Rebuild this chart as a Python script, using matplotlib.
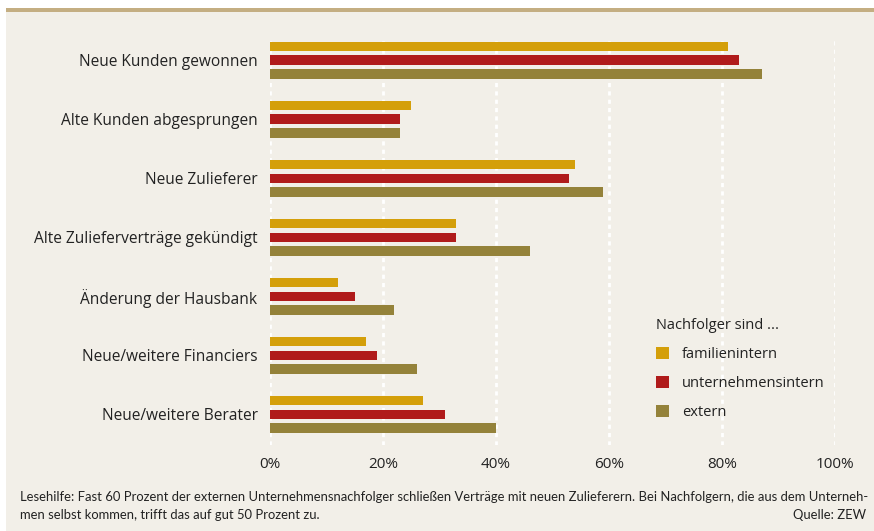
import numpy as np
import matplotlib
matplotlib.use("Agg")
from matplotlib import pyplot as plt
from matplotlib.patches import Rectangle

# data
categories = ["Neue Kunden gewonnen", "Alte Kunden abgesprungen", "Neue Zulieferer",
              "Alte Zulieferverträge gekündigt", "Änderung der Hausbank",
              "Neue/weitere Financiers", "Neue/weitere Berater"]
familienintern = [81, 25, 54, 33, 12, 17, 27]
unternehmensintern = [83, 23, 53, 33, 15, 19, 31]
extern = [87, 23, 59, 46, 22, 26, 40]
series_names = ["familienintern", "unternehmensintern", "extern"]
xticks = [0, 20, 40, 60, 80, 100]
xticklabels = ["0%", "20%", "40%", "60%", "80%", "100%"]

colors = ["#D49F0A", "#B01B1B", "#94823A"]
bg = "#F2EFE8"
txt = "#222222"

plt.rcParams['font.family'] = ['Open Sans', 'DejaVu Sans']

W, H = 874, 531
fig = plt.figure(figsize=(W / 100, H / 100), dpi=100)
fig.patch.set_facecolor("white")

# background panel and top band
fig.patches.append(Rectangle((6 / W, 0), 1, 1 - 12 / H, transform=fig.transFigure,
                             facecolor=bg, edgecolor="none", zorder=-10))
fig.patches.append(Rectangle((6 / W, 1 - 12 / H), 1, 4 / H, transform=fig.transFigure,
                             facecolor="#C4AE82", edgecolor="none", zorder=-10))

left, right, top, bottom = 270, 835, 37, 445
ax = fig.add_axes([left / W, 1 - bottom / H, (right - left) / W, (bottom - top) / H])
ax.set_facecolor("none")

y = np.arange(len(categories))
off = 0.237
h = 0.153
for i, (vals, c, name) in enumerate(zip([familienintern, unternehmensintern, extern], colors, series_names)):
    ax.barh(y + (i - 1) * off, vals, height=h, color=c, label=name, zorder=3)

ax.set_xlim(0, 100)
ax.set_ylim(len(categories) - 1 + 0.525, -0.39)
ax.set_yticks(y)
ax.set_yticklabels(categories, fontsize=11.2, color=txt)
ax.set_xticks(xticks)
ax.set_xticklabels(xticklabels, fontsize=11, color=txt)
ax.tick_params(length=0, pad=9)
ax.tick_params(axis="x", pad=9)
for s in ax.spines.values():
    s.set_visible(False)
ax.grid(axis="x", color="white", linestyle=(0, (1.5, 1.5)), linewidth=2, zorder=0)

leg = ax.legend(loc="upper left", bbox_to_anchor=(643 / W, 1 - 305 / H),
                bbox_transform=fig.transFigure, frameon=False,
                title="Nachfolger sind ...", fontsize=10.5, title_fontsize=10.5,
                handlelength=0.9, handleheight=0.9, handletextpad=0.85,
                labelspacing=0.95, alignment="left")
for t in leg.get_texts():
    t.set_color(txt)
leg.get_title().set_color(txt)

foot = ['Lato', 'DejaVu Sans']
fig.text(20 / W, 1 - 497 / H,
         "Lesehilfe: Fast 60 Prozent der externen Unternehmensnachfolger schließen Verträge mit neuen Zulieferern. "
         "Bei Nachfolgern, die aus dem Unterneh-",
         fontsize=9.4, color=txt, va="center", family=foot)
fig.text(20 / W, 1 - 515 / H, "men selbst kommen, trifft das auf gut 50 Prozent zu.",
         fontsize=9.4, color=txt, va="center", family=foot)
fig.text(866 / W, 1 - 515 / H, "Quelle: ZEW", fontsize=9.4, color=txt, va="center",
         ha="right", family=foot)

fig.savefig("out.png", dpi=100, facecolor=fig.get_facecolor())
